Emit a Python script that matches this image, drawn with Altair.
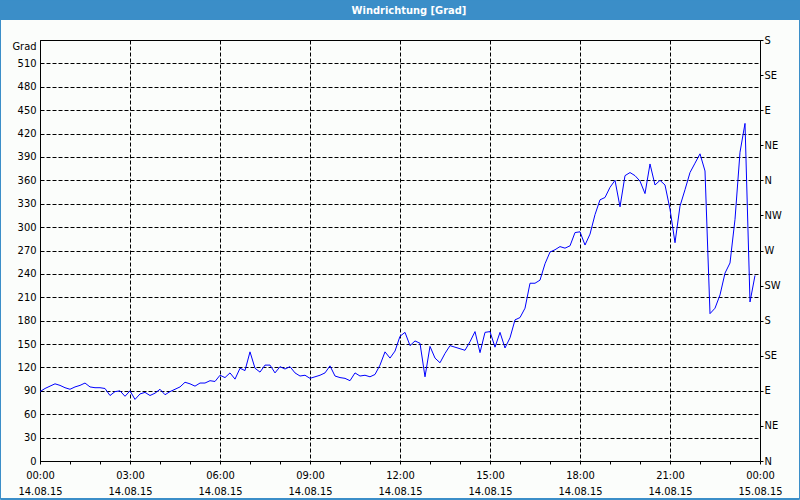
import json
import altair as alt
import pandas as pd

# ---- data (10-minute samples, 14.08.15 00:00 .. 23:50) ----
direction = [
    89, 93, 96, 99, 97, 94, 92, 95, 97, 100, 95, 94,          # 00:00-01:50
    94, 93, 84, 89, 90, 83, 90, 79, 86, 88, 84, 87,           # 02:00-03:50
    92, 85, 89, 92, 95, 101, 99, 96, 100, 100, 103, 102,      # 04:00-05:50
    110, 107, 113, 105, 119, 116, 140, 119, 114, 123, 123, 113,  # 06:00-07:50
    121, 118, 121, 113, 109, 110, 106, 108, 110, 113, 122, 109,  # 08:00-09:50
    107, 106, 103, 113, 109, 110, 108, 111, 123, 140, 132, 141,  # 10:00-11:50
    160, 165, 148, 154, 151, 108, 147, 132, 126, 138, 148, 146,  # 12:00-13:50
    144, 142, 153, 166, 139, 165, 166, 146, 165, 145, 158, 181,  # 14:00-15:50
    184, 196, 228, 228, 232, 253, 268, 271, 275, 273, 276, 293,  # 16:00-17:50
    294, 277, 291, 316, 335, 338, 351, 360, 326, 366, 370, 366,  # 18:00-19:50
    359, 343, 381, 354, 360, 354, 323, 280, 327, 348, 370, 382,  # 20:00-21:50
    394, 372, 189, 196, 213, 241, 254, 310, 396, 433, 204, 238,  # 22:00-23:50
]
minutes = list(range(0, 10 * len(direction), 10))

y_ticks = list(range(0, 511, 30))
compass_values = list(range(0, 541, 45))
compass_labels = ["N", "NE", "E", "SE", "S", "SW", "W", "NW", "N", "NE", "E", "SE", "S"]
x_tick_times = ["00:00", "03:00", "06:00", "09:00", "12:00", "15:00", "18:00", "21:00", "00:00"]
x_tick_dates = ["14.08.15"] * 8 + ["15.08.15"]

df = pd.DataFrame({"t": minutes, "v": direction})

FONT = "DejaVu Sans Condensed, DejaVu Sans, Tahoma, sans-serif"
BLUE = "#3b8ec8"
FS = 11

xscale = alt.Scale(domain=[0, 1440], nice=False, zero=False)
yscale = alt.Scale(domain=[0, 540], nice=False)

x_axis = alt.Axis(
    values=list(range(0, 1441, 60)),
    labelExpr=(
        f"datum.value % 180 === 0 ? [{json.dumps(x_tick_times)}[datum.value/180], "
        f"{json.dumps(x_tick_dates)}[datum.value/180]] : ''"
    ),
    tickSize=3, tickColor="black", tickWidth=1,
    grid=True, gridColor="black", gridDash=[4, 2], gridWidth=1,
    gridOpacity={"condition": {"test": "datum.value % 180 === 0", "value": 1}, "value": 0},
    domainColor="black", domainWidth=1,
    labelColor="black", labelFont=FONT, labelFontSize=FS, labelPadding=5,
    labelLineHeight=16, labelOverlap=False, labelFlush=False, labelBound=False,
    title=None,
)

left_axis = alt.Axis(
    values=y_ticks, tickSize=0, labelPadding=4,
    grid=True, gridColor="black", gridDash=[4, 2], gridWidth=1, gridOpacity=1,
    domainColor="black", labelColor="black", labelFont=FONT, labelFontSize=FS,
    title="Grad", titleAngle=0, titleAlign="right", titleBaseline="middle",
    titleX=-4, titleY=6, titleFont=FONT, titleFontSize=FS, titleFontWeight="normal",
    titleColor="black",
)

right_axis = alt.Axis(
    orient="right", values=compass_values,
    labelExpr=f"{json.dumps(compass_labels)}[round(datum.value/45)]",
    tickSize=3, tickColor="black", labelPadding=1, grid=False,
    domainColor="black", labelColor="black", labelFont=FONT, labelFontSize=FS,
    labelFlush=False, title=None,
)

line = alt.Chart(df).mark_line(color="#0000ff", strokeWidth=1).encode(
    x=alt.X("t:Q", scale=xscale, axis=x_axis),
    y=alt.Y("v:Q", scale=yscale, axis=left_axis),
)

right = alt.Chart(df).mark_line(opacity=0).encode(
    x=alt.X("t:Q", scale=xscale, axis=x_axis),
    y=alt.Y("v:Q", scale=yscale, axis=right_axis),
)

one = alt.Data(values=[{}])

title_bar = alt.Chart(one).mark_rect(color=BLUE).encode(
    x=alt.value(-40), x2=alt.value(760), y=alt.value(-40), y2=alt.value(-20)
)
title_text = alt.Chart(one).mark_text(
    text="Windrichtung [Grad]", color="white", font=FONT, fontSize=FS,
    fontWeight="bold", align="center", baseline="middle",
).encode(x=alt.value(369), y=alt.value(-29.5))

frame = alt.Chart(one).mark_rect(fillOpacity=0, stroke=BLUE, strokeWidth=1).encode(
    x=alt.value(-39.5), x2=alt.value(759.5), y=alt.value(-40), y2=alt.value(459.5)
)
bottom_edge = alt.Chart(one).mark_rule(color=BLUE, strokeWidth=1).encode(
    x=alt.value(-40), x2=alt.value(760), y=alt.value(458.5)
)

chart = (
    alt.layer(line, right, title_bar, title_text, frame, bottom_edge)
    .resolve_scale(y="independent")
    .properties(
        width=720, height=421,
        padding={"left": 40, "top": 40, "right": 40, "bottom": 39},
        autosize=alt.AutoSizeParams(type="none"),
        background="#fbfdfb",
    )
    .configure_view(stroke="black", strokeWidth=1)
)

chart.save("out.html", embed_options={"renderer": "svg", "actions": False})
